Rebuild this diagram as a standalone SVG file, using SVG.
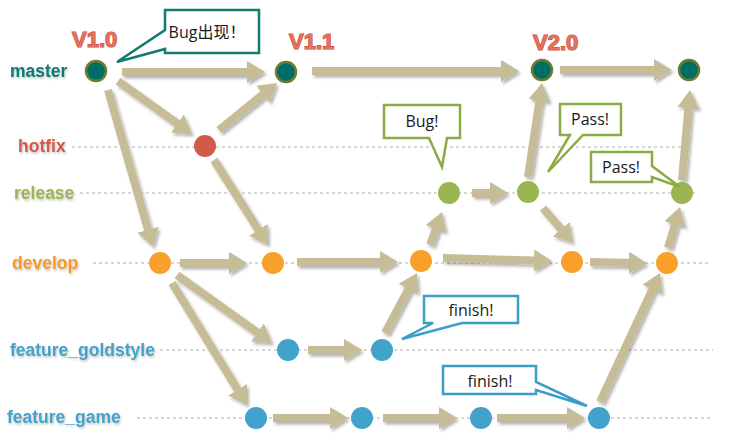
<svg xmlns="http://www.w3.org/2000/svg" width="737" height="448" viewBox="0 0 737 448">
<defs>
<style>
.lbl{font-family:"Liberation Sans",Arial,sans-serif;font-weight:bold;font-size:17.5px}
.ver{font-family:"Liberation Sans",Arial,sans-serif;font-weight:bold;font-size:22px;fill:#e4715f;stroke:#cc4a3a;stroke-width:1.2;paint-order:stroke}
.grid{stroke:#b0b0b0;stroke-width:1;stroke-dasharray:3 3;fill:none}
.arr{stroke:#c6bc96;stroke-width:8;fill:none;marker-end:url(#ah)}
.co{fill:#fff;stroke-width:2.5;stroke-linejoin:miter}
.ct{font-family:"Open Sans","Noto Sans CJK SC",sans-serif;font-size:16px;fill:#1a1a1a;text-anchor:middle}
.m{fill:#006e67;stroke:#6b7c2f;stroke-width:2.5}
.h{fill:#d25a4b}
.r{fill:#9bb553}
.d{fill:#f9a02a}
.f{fill:#41a3cb}
</style>
<marker id="ah" markerUnits="userSpaceOnUse" viewBox="0 0 18 22" markerWidth="18" markerHeight="22" refX="9" refY="11" orient="auto">
<path d="M0,0 L18,11 L0,22 Z" fill="#c6bc96"/>
</marker>
<filter id="sh" x="-20%" y="-20%" width="140%" height="140%">
<feDropShadow dx="2" dy="2.5" stdDeviation="1.5" flood-color="#000" flood-opacity="0.3"/>
</filter>
<filter id="tsh" x="-10%" y="-30%" width="120%" height="160%">
<feDropShadow dx="1" dy="1.5" stdDeviation="1" flood-color="#000" flood-opacity="0.25"/>
</filter>
</defs>
<rect width="737" height="448" fill="#fff"/>

<g id="gridlines">
<line class="grid" x1="72" y1="147" x2="683" y2="147"/>
<line class="grid" x1="80" y1="193" x2="698" y2="193"/>
<line class="grid" x1="93" y1="263" x2="708" y2="263"/>
<line class="grid" x1="160" y1="350" x2="713" y2="350"/>
<line class="grid" x1="137" y1="418" x2="713" y2="418"/>
</g>

<g id="labels" filter="url(#tsh)">
<text class="lbl" x="10" y="77" fill="#0d7a72">master</text>
<text class="lbl" x="18" y="152" fill="#d25a4b">hotfix</text>
<text class="lbl" x="14" y="199" fill="#9bb553">release</text>
<text class="lbl" x="12" y="269" fill="#f59a28">develop</text>
<text class="lbl" x="10" y="356" fill="#44a2c9">feature_goldstyle</text>
<text class="lbl" x="7" y="423" fill="#44a2c9">feature_game</text>
</g>

<g id="versions">
<text class="ver" x="72" y="47">V1.0</text>
<text class="ver" x="289" y="49">V1.1</text>
<text class="ver" x="533" y="50">V2.0</text>
</g>

<g id="connectors" filter="url(#sh)">
<line class="arr" x1="122" y1="72" x2="256" y2="72"/>
<line class="arr" x1="118" y1="81" x2="184.7" y2="128.7"/>
<line class="arr" x1="108" y1="90" x2="150.5" y2="238.4"/>
<line class="arr" x1="219" y1="130" x2="270" y2="88.6"/>
<line class="arr" x1="214" y1="160" x2="263.2" y2="237.4"/>
<line class="arr" x1="312" y1="71" x2="510" y2="71"/>
<line class="arr" x1="560" y1="70" x2="663" y2="70"/>
<line class="arr" x1="528" y1="177" x2="540.7" y2="91.9"/>
<line class="arr" x1="543" y1="208" x2="567" y2="236"/>
<line class="arr" x1="472" y1="193" x2="499" y2="193"/>
<line class="arr" x1="682" y1="180" x2="689.2" y2="99"/>
<line class="arr" x1="668" y1="248" x2="677.5" y2="215.6"/>
<line class="arr" x1="180" y1="263" x2="238" y2="263"/>
<line class="arr" x1="297" y1="262" x2="389" y2="262"/>
<line class="arr" x1="430" y1="245" x2="439" y2="220.5"/>
<line class="arr" x1="443" y1="258" x2="543" y2="260.8"/>
<line class="arr" x1="590" y1="262" x2="638" y2="263"/>
<line class="arr" x1="177" y1="275" x2="264.7" y2="337.8"/>
<line class="arr" x1="172" y1="283" x2="242.3" y2="397.3"/>
<line class="arr" x1="308" y1="350" x2="353" y2="350"/>
<line class="arr" x1="385" y1="333" x2="412.8" y2="280.9"/>
<line class="arr" x1="273" y1="418" x2="339" y2="418"/>
<line class="arr" x1="383" y1="418" x2="448" y2="418"/>
<line class="arr" x1="497" y1="418" x2="576" y2="418"/>
<line class="arr" x1="600" y1="402" x2="656.2" y2="281.2"/>
</g>

<g id="node-master-1"><circle class="m" cx="96" cy="71" r="10"/></g>
<g id="node-master-2"><circle class="m" cx="286" cy="72" r="10"/></g>
<g id="node-master-3"><circle class="m" cx="542" cy="70" r="10"/></g>
<g id="node-master-4"><circle class="m" cx="689" cy="70" r="10"/></g>
<g id="node-hotfix-1"><circle class="h" cx="205" cy="146" r="11"/></g>
<g id="node-release-1"><circle class="r" cx="449" cy="193" r="11"/></g>
<g id="node-release-2"><circle class="r" cx="528" cy="192" r="11"/></g>
<g id="node-release-3"><circle class="r" cx="682" cy="193" r="11"/></g>
<g id="node-develop-1"><circle class="d" cx="160" cy="263" r="11"/></g>
<g id="node-develop-2"><circle class="d" cx="273" cy="263" r="11"/></g>
<g id="node-develop-3"><circle class="d" cx="421" cy="261" r="11"/></g>
<g id="node-develop-4"><circle class="d" cx="572" cy="262" r="11"/></g>
<g id="node-develop-5"><circle class="d" cx="667" cy="263" r="11"/></g>
<g id="node-goldstyle-1"><circle class="f" cx="288" cy="350" r="11"/></g>
<g id="node-goldstyle-2"><circle class="f" cx="382" cy="350" r="11"/></g>
<g id="node-game-1"><circle class="f" cx="256" cy="418" r="11"/></g>
<g id="node-game-2"><circle class="f" cx="362" cy="418" r="11"/></g>
<g id="node-game-3"><circle class="f" cx="481" cy="418" r="11"/></g>
<g id="node-game-4"><circle class="f" cx="599" cy="418" r="11"/></g>

<g id="callout-bug-appear">
<path class="co" stroke="#137a70" d="M165,10 H259 V53 H165 V49 L117,62 L165,30 Z"/>
<text class="ct" x="207" y="38">Bug出现！</text>
</g>
<g id="callout-bug">
<path class="co" stroke="#8aac46" d="M384,105 H460 V138 H447 L442,167 L429,138 H384 Z"/>
<text class="ct" x="422" y="127">Bug!</text>
</g>
<g id="callout-pass-1">
<path class="co" stroke="#8aac46" d="M560,104 H621 V135 H583 L548,172 L570,135 H560 Z"/>
<text class="ct" x="590" y="125">Pass!</text>
</g>
<g id="callout-pass-2">
<path class="co" stroke="#8aac46" d="M591,152 H652 V166 L680,187 L652,177 V182 H591 Z"/>
<text class="ct" x="621" y="173">Pass!</text>
</g>
<g id="callout-finish-1">
<path class="co" stroke="#3a9fc8" d="M424,296 H518 V323 H462 L402,339 L433,323 H424 Z"/>
<text class="ct" x="471" y="316">finish!</text>
</g>
<g id="callout-finish-2">
<path class="co" stroke="#3a9fc8" d="M443,366 H536 V382 L587,406 L536,390 V394 H443 Z"/>
<text class="ct" x="490" y="387">finish!</text>
</g>
</svg>
